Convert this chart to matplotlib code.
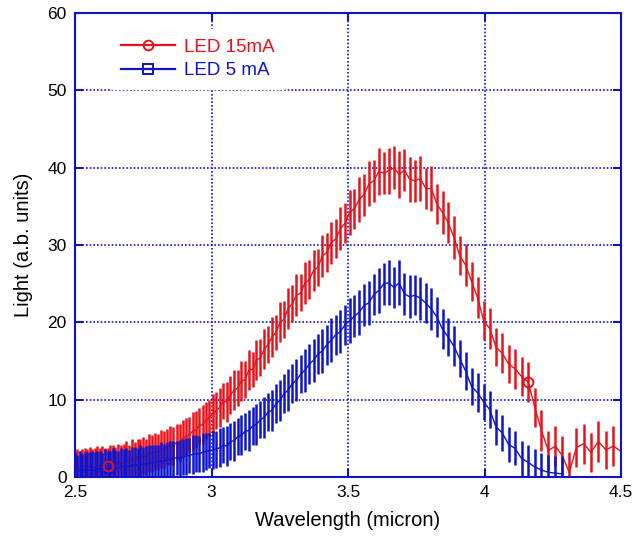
import numpy as np
import matplotlib
matplotlib.use("Agg")
import matplotlib.pyplot as plt
from matplotlib.lines import Line2D

plt.rcParams['font.family'] = ['Liberation Sans', 'DejaVu Sans']

# spectrometer sampling: uniform in wavenumber (cm^-1), 4000 -> 2222 step 14
wavenumber = np.arange(4000, 2221, -14)
x_all = 10000.0 / wavenumber          # wavelength in micron

red_vals = [1.0, 1.3, 0.9, 1.2, 1.4, 1.1, 1.5, 1.3, 1.2, 1.6,
            1.4, 1.7, 1.3, 1.4, 1.8, 1.6, 1.5, 2.0, 1.7, 1.9,
            2.2, 1.9, 2.4, 2.1, 2.6, 2.4, 2.8, 2.6, 3.1, 3.0,
            3.3, 3.2, 3.6, 3.5, 3.9, 4.1, 4.0, 4.5, 4.4, 5.0,
            5.2, 5.5, 5.9, 6.1, 6.6, 6.8, 7.3, 7.7, 8.2, 8.6,
            9.0, 9.8, 9.7, 10.6, 11.2, 11.5, 12.4, 12.6, 13.8, 13.9,
            15.1, 15.4, 16.5, 17.1, 18.1, 18.7, 20.0, 20.4, 21.8, 22.4,
            23.5, 23.8, 25.1, 25.5, 26.7, 27.1, 28.6, 29.0, 30.3, 30.8,
            32.1, 32.8, 34.2, 34.7, 35.9, 36.5, 37.9, 38.3, 39.5, 39.3,
            39.6, 40.0, 39.1, 39.7, 38.5, 38.3, 38.6, 37.3, 37.3, 35.3,
            34.2, 32.9, 31.0, 28.6, 27.4, 25.3, 23.2, 20.2, 19.2, 16.8,
            16.0, 14.6, 14.0, 13.0, 12.3, 9.0, 6.0, 3.4, 4.0, 2.8,
            0.6, 3.8, 4.3, 3.2, 4.6, 3.5, 4.0, 3.3]
red_err = [2.4, 2.3, 2.5, 2.4, 2.3, 2.5, 2.4, 2.3, 2.5, 2.4,
           2.4, 2.3, 2.5, 2.4, 2.3, 2.5, 2.4, 2.3, 2.5, 2.4,
           2.4, 2.3, 2.5, 2.4, 2.3, 2.5, 2.4, 2.3, 2.5, 2.4,
           2.4, 2.3, 2.5, 2.4, 2.3, 2.5, 2.4, 2.3, 2.5, 2.4,
           2.4, 2.3, 2.5, 2.4, 2.3, 2.5, 2.4, 2.3, 2.5, 2.4,
           2.5, 2.3, 2.6, 2.4, 2.6, 2.3, 2.6, 2.4, 2.6, 2.3,
           2.6, 2.4, 2.6, 2.4, 2.6, 2.3, 2.6, 2.4, 2.6, 2.4,
           2.7, 2.4, 2.7, 2.5, 2.7, 2.4, 2.7, 2.5, 2.7, 2.5,
           2.8, 2.6, 2.9, 2.6, 2.9, 2.7, 2.9, 2.7, 3.0, 2.7,
           3.0, 2.8, 3.0, 2.7, 2.9, 2.7, 2.9, 2.7, 2.9, 2.6,
           2.8, 2.6, 2.8, 2.5, 2.7, 2.5, 2.7, 2.5, 2.6, 2.5,
           2.6, 2.5, 2.6, 2.5, 2.6, 2.5, 2.6, 2.5, 2.6, 2.5,
           2.6, 2.5, 2.6, 2.5, 2.6, 2.5, 2.6, 2.5]

blue_vals = [0.8, 0.6, 0.9, 0.7, 1.0, 0.8, 0.9, 1.1, 0.8, 1.0,
             1.1, 0.9, 1.2, 1.0, 1.1, 1.3, 1.2, 1.1, 1.4, 1.3,
             1.4, 1.3, 1.5, 1.6, 1.5, 1.7, 1.6, 1.8, 1.7, 1.9,
             1.9, 2.0, 2.1, 2.0, 2.3, 2.2, 2.4, 2.5, 2.4, 2.6,
             2.7, 2.8, 2.9, 3.0, 3.0, 3.2, 3.3, 3.4, 3.5, 3.6,
             3.8, 4.1, 4.0, 4.6, 4.7, 5.2, 5.4, 5.9, 6.0, 6.6,
             6.8, 7.4, 7.7, 8.4, 8.6, 9.5, 9.9, 10.8, 11.2, 12.1,
             12.5, 13.3, 13.8, 14.6, 15.1, 15.9, 16.3, 17.1, 17.7, 18.4,
             18.8, 19.7, 20.2, 20.8, 21.3, 22.2, 22.5, 23.6, 24.1, 25.0,
             25.1, 24.5, 25.1, 23.7, 23.3, 23.5, 23.1, 22.5, 21.7, 20.7,
             19.1, 18.1, 16.9, 15.3, 13.7, 11.7, 10.9, 9.7, 8.7, 6.5,
             5.7, 4.2, 3.7, 2.4, 1.9, 1.3, 0.9, 0.6, 0.5, 0.4]
blue_err = [2.3, 2.2, 2.4, 2.3, 2.2, 2.4, 2.3, 2.2, 2.4, 2.3,
            2.3, 2.2, 2.4, 2.3, 2.2, 2.4, 2.3, 2.2, 2.4, 2.3,
            2.3, 2.2, 2.4, 2.3, 2.2, 2.4, 2.3, 2.2, 2.4, 2.3,
            2.3, 2.2, 2.4, 2.3, 2.2, 2.4, 2.3, 2.2, 2.4, 2.3,
            2.4, 2.3, 2.5, 2.4, 2.3, 2.5, 2.4, 2.3, 2.5, 2.4,
            2.5, 2.3, 2.6, 2.4, 2.6, 2.4, 2.6, 2.4, 2.6, 2.4,
            2.6, 2.4, 2.7, 2.5, 2.7, 2.5, 2.7, 2.5, 2.7, 2.5,
            2.7, 2.5, 2.8, 2.6, 2.8, 2.6, 2.8, 2.6, 2.8, 2.6,
            2.8, 2.6, 2.9, 2.7, 2.9, 2.7, 2.9, 2.7, 2.9, 2.7,
            2.9, 2.7, 2.9, 2.7, 2.8, 2.6, 2.8, 2.6, 2.7, 2.6,
            2.6, 2.5, 2.6, 2.4, 2.5, 2.4, 2.5, 2.3, 2.4, 2.3,
            2.3, 2.3, 2.2, 2.3, 2.2, 2.3, 2.2, 2.3, 2.2, 2.3]

x_red = x_all[:len(red_vals)]
x_blue = x_all[:len(blue_vals)]

red_marker_idx = [13, 114]
blue_marker_idx = [14]

RED = '#e8121a'
BLUE = '#0d14cc'

fig = plt.figure(figsize=(6.34, 5.38), dpi=100)
ax = fig.add_axes([0.1183, 0.1134, 0.8612, 0.8625])

ax.set_xlim(2.5, 4.5)
ax.set_ylim(0, 60)
ax.set_xticks([2.5, 3, 3.5, 4, 4.5])
ax.set_xticklabels(['2.5', '3', '3.5', '4', '4.5'])
ax.set_yticks([0, 10, 20, 30, 40, 50, 60])

ax.grid(True, color=BLUE, linestyle=(0, (1, 1.2)), linewidth=1.2, zorder=0)
ax.set_axisbelow(True)

ax.errorbar(x_red, red_vals, yerr=red_err, color=RED, ecolor=RED,
            elinewidth=1.8, linewidth=1.0, capsize=0, zorder=2)
ax.errorbar(x_blue, blue_vals, yerr=blue_err, color=BLUE, ecolor=BLUE,
            elinewidth=1.8, linewidth=1.0, capsize=0, zorder=3)
ax.plot(x_red[red_marker_idx], np.array(red_vals)[red_marker_idx], 'o',
        mfc='none', mec=RED, ms=7, mew=1.4, zorder=5)
ax.plot(x_blue[blue_marker_idx], np.array(blue_vals)[blue_marker_idx], 's',
        mfc='none', mec=BLUE, ms=7, mew=1.4, zorder=2.5)

h_red = Line2D([], [], color=RED, lw=1.6, marker='o', mfc='none', mec=RED, ms=7, mew=1.4)
h_blue = Line2D([], [], color=BLUE, lw=1.6, marker='s', mfc='none', mec=BLUE, ms=7, mew=1.4)
leg = ax.legend([h_red, h_blue], ['LED 15mA', 'LED 5 mA'], loc='upper left',
                bbox_to_anchor=(0.05, 0.985), frameon=True, fancybox=False,
                edgecolor='white', facecolor='white', framealpha=1.0,
                fontsize=13.5, handlelength=2.9, handletextpad=0.45,
                labelspacing=0.35, borderpad=0.5)
for t, c in zip(leg.get_texts(), [RED, BLUE]):
    t.set_color(c)

for s in ax.spines.values():
    s.set_color(BLUE)
    s.set_linewidth(1.5)
ax.tick_params(axis='both', which='both', direction='in', color=BLUE,
               length=6, width=1.5, top=True, right=True,
               labelsize=12.5, labelcolor='black', pad=6)

ax.set_xlabel('Wavelength (micron)', fontsize=14.5, labelpad=8)
ax.set_ylabel('Light (a.b. units)', fontsize=14.5, labelpad=10)

fig.savefig('out.png', dpi=100)
